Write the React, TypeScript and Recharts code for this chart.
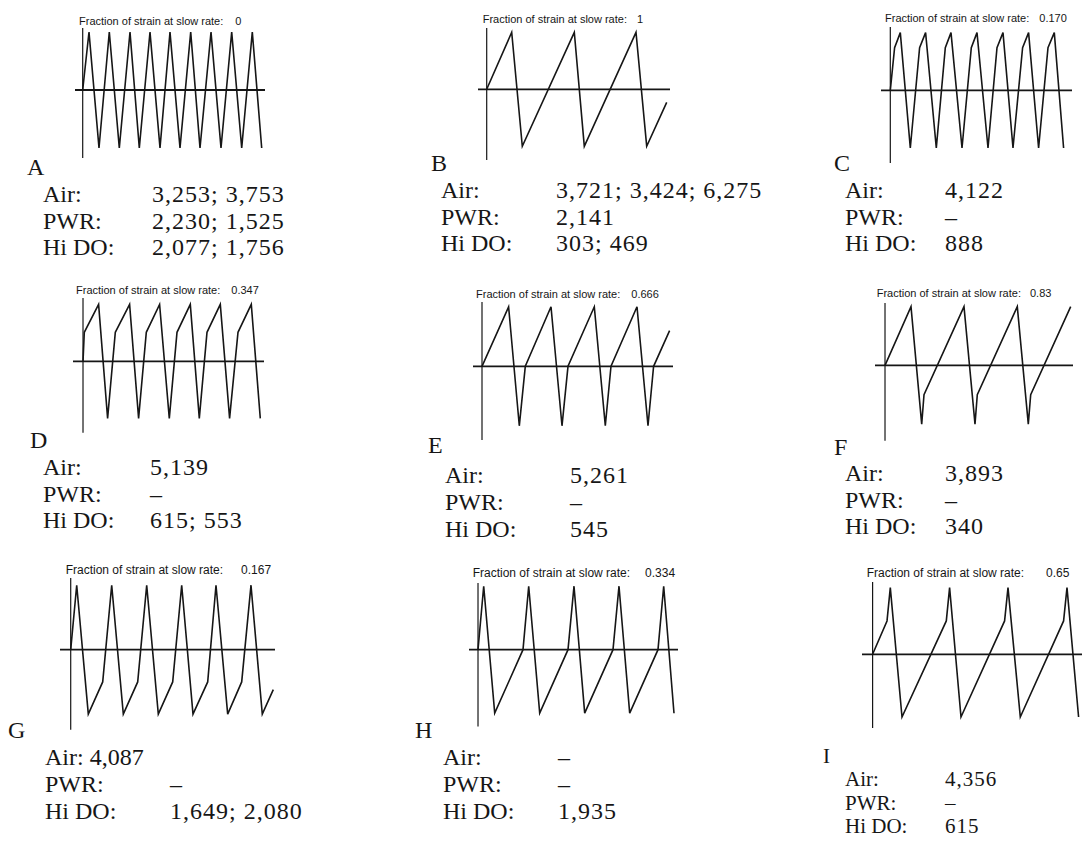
import { Line, LineChart, ReferenceLine, XAxis, YAxis } from 'recharts';

// panel letters and the "fraction of strain at slow rate" of each waveform
const letters = ['A', 'B', 'C', 'D', 'E', 'F', 'G', 'H', 'I'];
const fractions = ['0', '1', '0.170', '0.347', '0.666', '0.83', '0.167', '0.334', '0.65'];

// fatigue lives under each waveform ("–" = not tested)
const airLives = ['3,253; 3,753', '3,721; 3,424; 6,275', '4,122', '5,139', '5,261', '3,893', '4,087', '–', '4,356'];
const pwrLives = ['2,230; 1,525', '2,141', '–', '–', '–', '–', '–', '–', '–'];
const hiDoLives = ['2,077; 1,756', '303; 469', '888', '615; 553', '545', '340', '1,649; 2,080', '1,935', '615'];

// waveform vertices: [time, normalised strain]
const waveA: [number, number][] = [
  [0, 0], [6.3, 1], [16.3, -1], [26.6, 1], [36.6, -1], [47.3, 1], [56.6, -1], [67.3, 1], [77.3, -1],
  [87.3, 1], [97.3, -1], [108, 1], [117.3, -1], [128.3, 1], [138.3, -1], [149, 1], [159, -1], [169.6, 1], [179, -1],
];
const waveB: [number, number][] = [
  [0, 0], [25, 1], [35.6, -1], [87.6, 1], [97.6, -1], [149.3, 1], [160, -1], [180, -0.23],
];
const waveC: [number, number][] = [
  [0, 0], [4.3, 0.74], [10, 1], [20, -1], [29.3, 0.74], [35.3, 1], [46, -1], [55, 0.74], [60.7, 1], [71.7, -1],
  [81, 0.74], [86.7, 1], [97.7, -1], [106.7, 0.74], [112.7, 1], [122.7, -1], [132.3, 0.74], [138.3, 1], [148.3, -1],
  [157.7, 0.74], [164, 1], [173.3, -1],
];
const waveD: [number, number][] = [
  [0, 0], [1.3, 0.51], [15.6, 1], [24.6, -1], [32.3, 0.51], [46.6, 1], [55.6, -1], [63.3, 0.51], [76.6, 1], [86.3, -1],
  [94, 0.51], [107.3, 1], [116.3, -1], [124, 0.51], [137.3, 1], [146.6, -1], [155, 0.51], [168.3, 1], [177.3, -1],
];
const waveE: [number, number][] = [
  [0, 0], [26.6, 1], [37.3, -1], [43.3, 0], [69, 1], [80, -1], [86, 0], [112.3, 1], [123.3, -1], [129, 0],
  [155, 1], [166, -1], [171.6, 0], [187.6, 0.6],
];
const waveF: [number, number][] = [
  [0, 0], [26, 1], [36.7, -1], [39, -0.5], [79, 1], [90, -1], [92.3, -0.5], [132.3, 1], [143.3, -1], [145.7, -0.5],
  [185.7, 1],
];
const waveG: [number, number][] = [
  [0, 0], [6, 1], [17.6, -1], [32, -0.5], [41, 1], [52.6, -1], [67, -0.5], [76, 1], [87.6, -1], [102, -0.5],
  [111, 1], [122.3, -1], [137, -0.5], [145.3, 1], [157, -1], [171, -0.5], [180.3, 1], [191.6, -1], [202.6, -0.62],
];
const waveH: [number, number][] = [
  [0, 0], [5.7, 1], [16.7, -1], [45, 0], [50.7, 1], [61.7, -1], [90, 0], [96, 1], [106.7, -1], [135, 0],
  [141, 1], [151.7, -1], [180, 0], [185.7, 1], [196, -1],
];
const waveI: [number, number][] = [
  [0, 0], [14.4, 0.5], [17.7, 1], [29.4, -0.94], [73.7, 0.5], [77, 1], [88.4, -0.94], [132, 0.5], [135.4, 1],
  [147.7, -0.94], [191, 0.5], [194.4, 1], [206, -0.94],
];

const waves = [waveA, waveB, waveC, waveD, waveE, waveF, waveG, waveH, waveI];

// layout of each small plot: box on the page, axis offset, zero line, px per strain unit
const plotBoxes = [
  { left: 75, top: 28, width: 190, height: 130, x0: 7.7, zeroY: 62, amp: 58 },
  { left: 478, top: 28, width: 192, height: 132, x0: 8.7, zeroY: 61.3, amp: 57 },
  { left: 880.7, top: 26.7, width: 191, height: 136.6, x0: 9.3, zeroY: 63.3, amp: 57.7 },
  { left: 72.7, top: 298.3, width: 191.3, height: 134.7, x0: 10, zeroY: 63.4, amp: 57 },
  { left: 472.7, top: 301.7, width: 200, height: 138.3, x0: 9, zeroY: 64.3, amp: 59.5 },
  { left: 875, top: 303.3, width: 198.3, height: 137.7, x0: 10, zeroY: 62.4, amp: 58.8 },
  { left: 60, top: 578.3, width: 215, height: 151.7, x0: 10.7, zeroY: 71.7, amp: 64.5 },
  { left: 469.3, top: 583.3, width: 209, height: 143.4, x0: 9, zeroY: 66.7, amp: 63.5 },
  { left: 861.7, top: 581.7, width: 220, height: 146.6, x0: 10.6, zeroY: 72.3, amp: 66.7 },
];

// title and text block placement
const titles = [
  { x: 79, y: 25, size: 11, gap: 12 },
  { x: 482.7, y: 23, size: 11, gap: 10 },
  { x: 885, y: 22, size: 11, gap: 10 },
  { x: 76, y: 294, size: 11, gap: 11 },
  { x: 476, y: 298, size: 11, gap: 11 },
  { x: 876.7, y: 297, size: 11, gap: 9 },
  { x: 65.7, y: 574, size: 12, gap: 18 },
  { x: 472.7, y: 577, size: 12, gap: 15 },
  { x: 866.7, y: 577, size: 12, gap: 22 },
];
const textBlocks = [
  { lx: 27, ly: 175, x: 43, vx: 152, y: 202, pitch: 26.5, size: 24 },
  { lx: 431, ly: 171, x: 441, vx: 556, y: 198, pitch: 26.5, size: 24 },
  { lx: 834, ly: 171, x: 845, vx: 945, y: 198, pitch: 26.5, size: 24 },
  { lx: 30, ly: 448, x: 43, vx: 150, y: 475, pitch: 26.5, size: 24 },
  { lx: 428, ly: 453, x: 445, vx: 570, y: 483, pitch: 27, size: 24 },
  { lx: 834, ly: 455, x: 845, vx: 945, y: 481, pitch: 26.5, size: 24 },
  { lx: 8, ly: 738, x: 45, vx: 170, y: 765, pitch: 27, size: 24 },
  { lx: 415, ly: 738, x: 443, vx: 558, y: 765, pitch: 27, size: 24 },
  { lx: 823, ly: 763, x: 845, vx: 945, y: 786, pitch: 23.5, size: 21 },
];

const INK = '#161616';
const SERIF = '"Liberation Serif", "Times New Roman", serif';
const SANS = '"Liberation Sans", Arial, sans-serif';

function WavePlot({ index }: { index: number }) {
  const box = plotBoxes[index];
  const data = waves[index].map(([t, s]) => ({ t, s }));
  const xDomain = [-box.x0, box.width - box.x0];
  const yDomain = [-(box.height - box.zeroY) / box.amp, box.zeroY / box.amp];
  return (
    <div style={{ position: 'absolute', left: box.left, top: box.top }}>
      <LineChart width={box.width} height={box.height} data={data} margin={{ top: 0, right: 0, bottom: 0, left: 0 }}>
        <XAxis dataKey="t" type="number" domain={xDomain} allowDataOverflow hide />
        <YAxis type="number" domain={yDomain} allowDataOverflow hide />
        <ReferenceLine y={0} stroke={INK} strokeWidth={1.8} />
        <ReferenceLine x={0} stroke={INK} strokeWidth={1.2} />
        <Line
          type="linear"
          dataKey="s"
          stroke={INK}
          strokeWidth={1.6}
          dot={false}
          isAnimationActive={false}
        />
      </LineChart>
    </div>
  );
}

export default function App() {
  return (
    <div style={{ position: 'absolute', left: 0, top: 0, width: 1082, height: 843, background: '#fff', overflow: 'hidden' }}>
      {letters.map((_, i) => (
        <WavePlot key={i} index={i} />
      ))}
      <svg width={1082} height={843} style={{ position: 'absolute', left: 0, top: 0 }}>
        {titles.map((t, i) => (
          <text key={`t${i}`} x={t.x} y={t.y} fontFamily={SANS} fontSize={t.size} fill={INK}>
            Fraction of strain at slow rate:
            <tspan dx={t.gap}>{fractions[i]}</tspan>
          </text>
        ))}
        {textBlocks.map((b, i) => (
          <g key={`b${i}`} fontFamily={SERIF} fontSize={b.size} fill={INK}>
            <text x={b.lx} y={b.ly}>{letters[i]}</text>
            {i === 6 ? (
              <text x={b.x} y={b.y}>Air: {airLives[i]}</text>
            ) : (
              <>
                <text x={b.x} y={b.y}>Air:</text>
                <text x={b.vx} y={b.y} letterSpacing={1}>{airLives[i]}</text>
              </>
            )}
            <text x={b.x} y={b.y + b.pitch}>PWR:</text>
            <text x={b.vx} y={b.y + b.pitch} letterSpacing={1}>{pwrLives[i]}</text>
            <text x={b.x} y={b.y + 2 * b.pitch}>Hi DO:</text>
            <text x={b.vx} y={b.y + 2 * b.pitch} letterSpacing={1}>{hiDoLives[i]}</text>
          </g>
        ))}
      </svg>
    </div>
  );
}
